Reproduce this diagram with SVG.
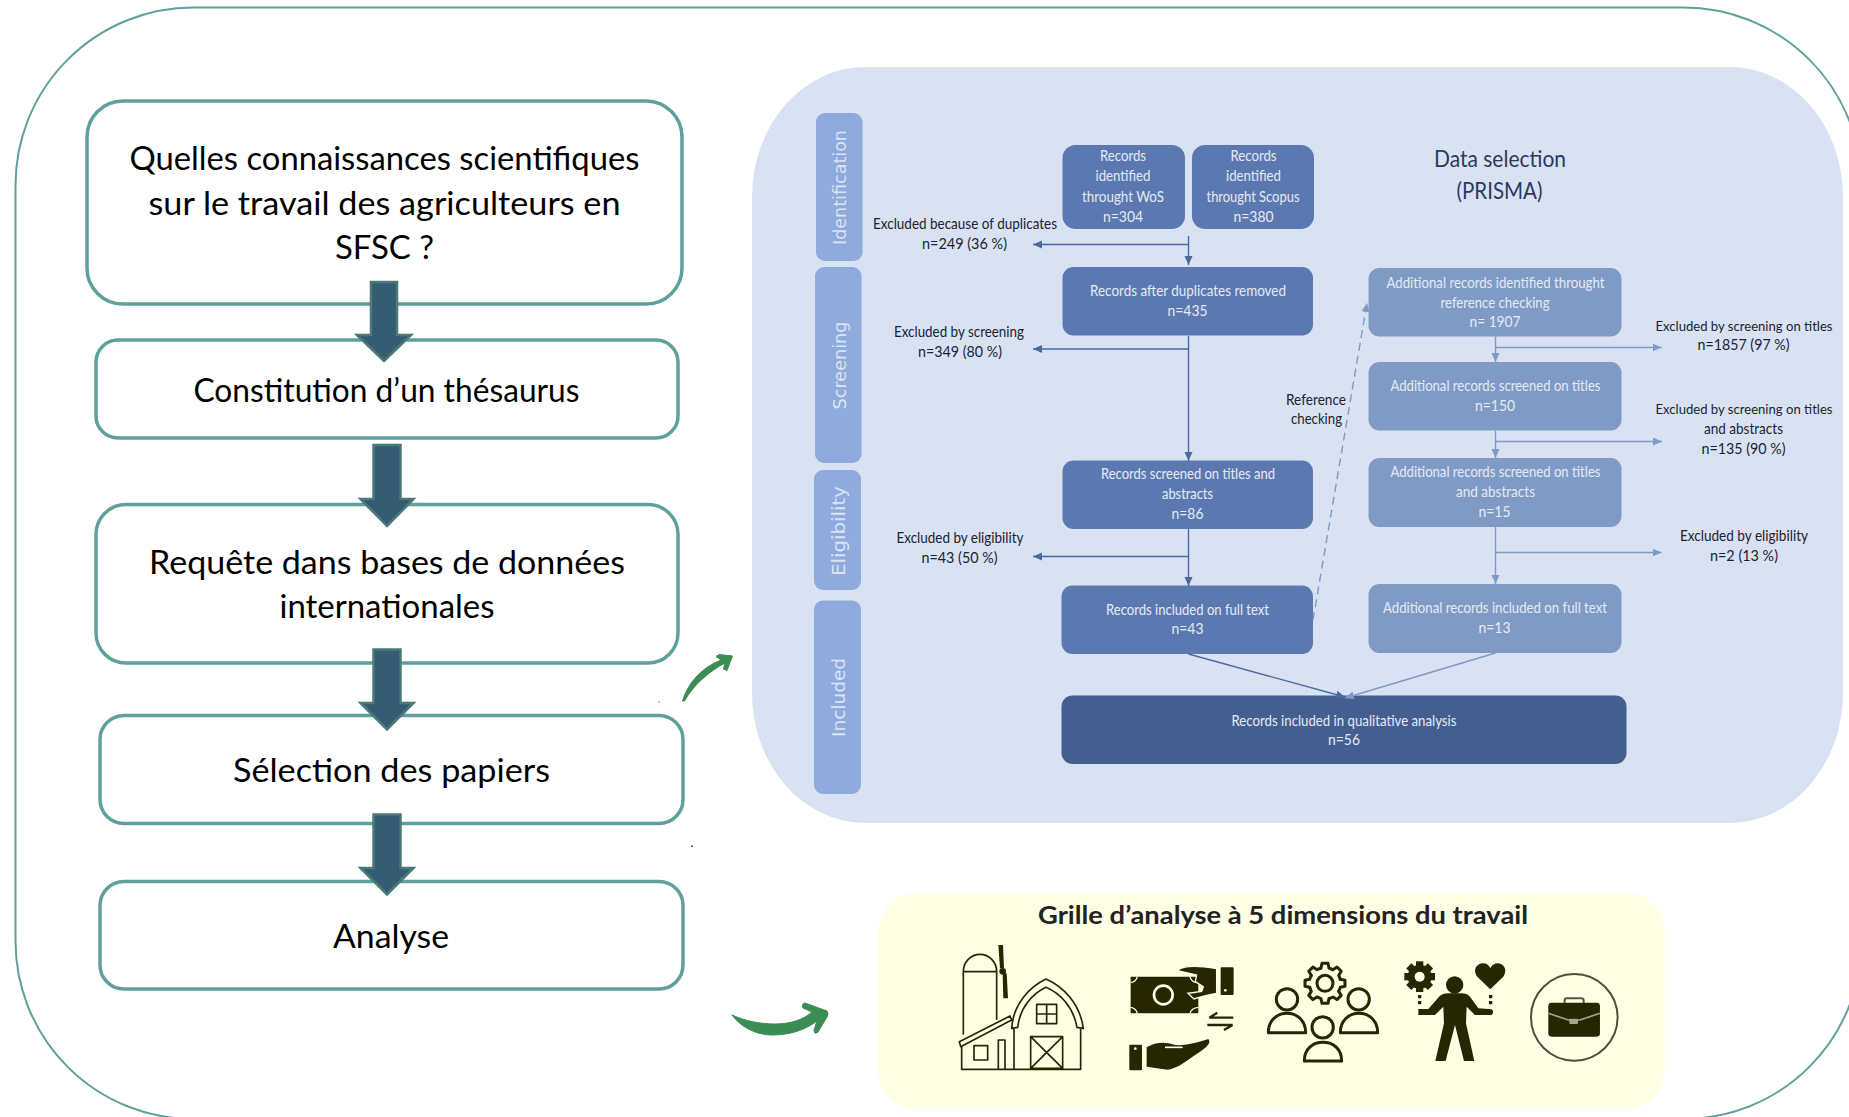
<svg xmlns="http://www.w3.org/2000/svg" xmlns:xlink="http://www.w3.org/1999/xlink" width="1849" height="1117" viewBox="0 0 1849 1117">
<style>
text{font-family:"Lato","Open Sans","Liberation Sans",sans-serif;text-anchor:middle}
.box{fill:#fff;stroke:#60a09c;stroke-width:3.5}
.big{font-size:32px;fill:#000}
.arr{fill:#365c74;stroke:#4a7a78;stroke-width:2.5}
.tab{fill:#8faadc}
.tabt{font-family:"DejaVu Sans","Open Sans",sans-serif;font-size:18px;fill:#dbe4f4}
.d{fill:#5b79b0}.l{fill:#7f9ac4}.x{fill:#445f8f}
.w{font-size:15px;fill:#e4eaf5;transform:translateY(-.7px)}
.k{font-size:15px;fill:#1c2230;transform:translateY(-.7px)}
.k14{font-size:14px}
.cd{fill:none;stroke:#4a6a9f;stroke-width:1.4}
.cl{fill:none;stroke:#7f9ac4;stroke-width:1.4}
.ic{fill:none;stroke:#262600;stroke-linecap:round;stroke-linejoin:round}
.if{fill:#262600}
.g{fill:#3c8c55;stroke:#3c8c55;stroke-width:1;stroke-linejoin:round}
</style>
<defs>
<marker id="hd" markerUnits="userSpaceOnUse" markerWidth="10" markerHeight="10" refX="9" refY="4" orient="auto"><path d="M0,0L9,4L0,8Z" fill="#4a6a9f"/></marker>
<marker id="hl" markerUnits="userSpaceOnUse" markerWidth="10" markerHeight="10" refX="9" refY="4" orient="auto"><path d="M0,0L9,4L0,8Z" fill="#7f9ac4"/></marker>
<path id="tooth" d="M-12,-46L-9,-60H9L12,-46A48,48 0 0 1 23,-41"/>
<rect id="st" x="-11" y="-46" width="22" height="14"/>
</defs>
<rect width="1849" height="1117" fill="#fff"/>
<rect id="frame" x="15.500" y="7.500" width="1846" height="1111.500" rx="178" ry="178" fill="none" stroke="#60a09c" stroke-width="2"/>

<g id="q1"><rect class="box" x="87" y="101" width="595" height="203" rx="36"/>
<text class="big" x="384.500" y="170" textLength="510" lengthAdjust="spacingAndGlyphs">Quelles connaissances scientifiques</text>
<text class="big" x="384.500" y="215" textLength="472" lengthAdjust="spacingAndGlyphs">sur le travail des agriculteurs en</text>
<text class="big" x="384.500" y="259" textLength="99" lengthAdjust="spacingAndGlyphs">SFSC ?</text></g>
<g id="q2"><rect class="box" x="96" y="340" width="582" height="98" rx="22"/>
<text class="big" x="386.500" y="402" textLength="386" lengthAdjust="spacingAndGlyphs">Constitution d’un thésaurus</text></g>
<g id="q3"><rect class="box" x="96" y="504.500" width="582" height="158.500" rx="30"/>
<text class="big" x="387" y="574" textLength="476" lengthAdjust="spacingAndGlyphs">Requête dans bases de données</text>
<text class="big" x="387" y="618" textLength="215" lengthAdjust="spacingAndGlyphs">internationales</text></g>
<g id="q4"><rect class="box" x="100" y="715.500" width="583" height="108" rx="24"/>
<text class="big" x="391.500" y="782" textLength="317" lengthAdjust="spacingAndGlyphs">Sélection des papiers</text></g>
<g id="q5"><rect class="box" x="100" y="881.500" width="583" height="107.500" rx="24"/>
<text class="big" x="391" y="948" textLength="116" lengthAdjust="spacingAndGlyphs">Analyse</text></g>

<g id="flow-arrows">
<path class="arr" d="M371,282H397V335H411L384,361L357,335H371Z"/>
<path class="arr" d="M373.500,445H400.500V499H413.500L387,526L360.500,499H373.500Z"/>
<path class="arr" d="M373.500,649.500H400.500V703H413.500L387,729.500L360.500,703H373.500Z"/>
<path class="arr" d="M373.500,814.500H400.500V868H413.500L387,894.500L360.500,868H373.500Z"/>
</g>

<g id="green-arrows">
<path class="g" d="M682.500,701C688,682 703,667 721,660L716,656.500L719,654.500L732.500,656L727,670.500L723.500,669L725,663C710,671 694,684 684.500,701Z"/>
<path class="g" d="M732,1015C745,1021 760,1024 775,1024C790,1024 803,1020 812,1012L803,1008Q801,1004 805,1003L827,1011Q829,1014 827,1017L818,1032Q814,1035 814,1030L817,1021C805,1030 790,1035 772,1035C755,1035 740,1026 732,1015Z"/>
</g>
<rect x="658.500" y="701" width="1.500" height="2" fill="#9cc"/>
<rect x="691" y="845.500" width="2" height="1.500" fill="#555"/>

<g id="prisma-panel">
<rect x="752" y="67" width="1091" height="756" rx="113" ry="130" fill="#d9e2f3"/>
<text x="1500" y="167" font-size="23" fill="#2b3a5e" textLength="132" lengthAdjust="spacingAndGlyphs">Data selection</text>
<text x="1499.500" y="199" font-size="23" fill="#2b3a5e" textLength="86" lengthAdjust="spacingAndGlyphs">(PRISMA)</text>
</g>

<g id="tab-identification"><rect class="tab" x="816" y="113" width="46.500" height="148" rx="9"/><text class="tabt" transform="translate(846,187.500) rotate(-90)" textLength="115" lengthAdjust="spacingAndGlyphs">Identification</text></g>
<g id="tab-screening"><rect class="tab" x="815" y="267" width="46.500" height="196" rx="9"/><text class="tabt" transform="translate(846,365.500) rotate(-90)" textLength="88" lengthAdjust="spacingAndGlyphs">Screening</text></g>
<g id="tab-eligibility"><rect class="tab" x="814" y="470" width="47" height="120" rx="9"/><text class="tabt" transform="translate(845,531) rotate(-90)" textLength="90" lengthAdjust="spacingAndGlyphs">Eligibility</text></g>
<g id="tab-included"><rect class="tab" x="814" y="600.500" width="47" height="193.500" rx="9"/><text class="tabt" transform="translate(845,697.500) rotate(-90)" textLength="79" lengthAdjust="spacingAndGlyphs">Included</text></g>

<g id="wos"><rect class="d" x="1062.500" y="145" width="122.500" height="84" rx="13"/>
<text class="w" x="1123" y="162" textLength="46" lengthAdjust="spacingAndGlyphs">Records</text><text class="w" x="1123" y="182" textLength="55" lengthAdjust="spacingAndGlyphs">identified</text><text class="w" x="1123" y="203" textLength="82" lengthAdjust="spacingAndGlyphs">throught WoS</text><text class="w" x="1123" y="223" textLength="40" lengthAdjust="spacingAndGlyphs">n=304</text></g>
<g id="scopus"><rect class="d" x="1192" y="145" width="122" height="84" rx="13"/>
<text class="w" x="1253.500" y="162" textLength="46" lengthAdjust="spacingAndGlyphs">Records</text><text class="w" x="1253.500" y="182" textLength="55" lengthAdjust="spacingAndGlyphs">identified</text><text class="w" x="1253" y="203" textLength="93" lengthAdjust="spacingAndGlyphs">throught Scopus</text><text class="w" x="1253.500" y="223" textLength="40" lengthAdjust="spacingAndGlyphs">n=380</text></g>
<g id="after-dup"><rect class="d" x="1062.500" y="267" width="250.500" height="68.500" rx="11"/>
<text class="w" x="1188" y="297" textLength="196" lengthAdjust="spacingAndGlyphs">Records after duplicates removed</text><text class="w" x="1187.500" y="317" textLength="40" lengthAdjust="spacingAndGlyphs">n=435</text></g>
<g id="screened"><rect class="d" x="1062.500" y="460.500" width="250.500" height="68.500" rx="11"/>
<text class="w" x="1188" y="480" textLength="174" lengthAdjust="spacingAndGlyphs">Records screened on titles and</text><text class="w" x="1187.500" y="500" textLength="51" lengthAdjust="spacingAndGlyphs">abstracts</text><text class="w" x="1187.500" y="520" textLength="32" lengthAdjust="spacingAndGlyphs">n=86</text></g>
<g id="fulltext"><rect class="d" x="1061.500" y="585.500" width="251.500" height="68.500" rx="11"/>
<text class="w" x="1187.500" y="616" textLength="163" lengthAdjust="spacingAndGlyphs">Records included on full text</text><text class="w" x="1187.500" y="635" textLength="32" lengthAdjust="spacingAndGlyphs">n=43</text></g>
<g id="qualitative"><rect class="x" x="1061.500" y="695.500" width="565" height="68.500" rx="11"/>
<text class="w" x="1344" y="727" textLength="225" lengthAdjust="spacingAndGlyphs">Records included in qualitative analysis</text><text class="w" x="1344" y="746" textLength="32" lengthAdjust="spacingAndGlyphs">n=56</text></g>
<g id="add1"><rect class="l" x="1368.500" y="268" width="253" height="68.500" rx="11"/>
<text class="w" x="1495.500" y="289" textLength="218" lengthAdjust="spacingAndGlyphs">Additional records identified throught</text><text class="w" x="1495" y="309" textLength="109" lengthAdjust="spacingAndGlyphs">reference checking</text><text class="w" x="1495" y="328" textLength="51" lengthAdjust="spacingAndGlyphs">n= 1907</text></g>
<g id="add2"><rect class="l" x="1368.500" y="362" width="253" height="68.500" rx="11"/>
<text class="w" x="1495.500" y="392" textLength="210" lengthAdjust="spacingAndGlyphs">Additional records screened on titles</text><text class="w" x="1495" y="412" textLength="40" lengthAdjust="spacingAndGlyphs">n=150</text></g>
<g id="add3"><rect class="l" x="1368.500" y="458" width="253" height="69" rx="11"/>
<text class="w" x="1495.500" y="478" textLength="210" lengthAdjust="spacingAndGlyphs">Additional records screened on titles</text><text class="w" x="1495.500" y="498" textLength="79" lengthAdjust="spacingAndGlyphs">and abstracts</text><text class="w" x="1494.500" y="518" textLength="32" lengthAdjust="spacingAndGlyphs">n=15</text></g>
<g id="add4"><rect class="l" x="1368.500" y="584" width="253" height="69" rx="11"/>
<text class="w" x="1495" y="614" textLength="224" lengthAdjust="spacingAndGlyphs">Additional records included on full text</text><text class="w" x="1494.500" y="634" textLength="32" lengthAdjust="spacingAndGlyphs">n=13</text></g>

<g id="labels">
<text class="k" x="965" y="230" textLength="184" lengthAdjust="spacingAndGlyphs">Excluded because of duplicates</text><text class="k" x="964.500" y="250" textLength="85" lengthAdjust="spacingAndGlyphs">n=249 (36 %)</text>
<text class="k" x="959" y="338" textLength="130" lengthAdjust="spacingAndGlyphs">Excluded by screening</text><text class="k" x="960" y="358" textLength="84" lengthAdjust="spacingAndGlyphs">n=349 (80 %)</text>
<text class="k" x="960" y="544" textLength="127" lengthAdjust="spacingAndGlyphs">Excluded by eligibility</text><text class="k" x="959.500" y="564" textLength="76" lengthAdjust="spacingAndGlyphs">n=43 (50 %)</text>
<text class="k" x="1316" y="406" textLength="60" lengthAdjust="spacingAndGlyphs">Reference</text><text class="k" x="1316.500" y="425" textLength="51" lengthAdjust="spacingAndGlyphs">checking</text>
<text class="k k14" x="1744" y="332" textLength="177" lengthAdjust="spacingAndGlyphs">Excluded by screening on titles</text><text class="k" x="1743.500" y="351" textLength="92" lengthAdjust="spacingAndGlyphs">n=1857 (97 %)</text>
<text class="k k14" x="1744" y="415" textLength="177" lengthAdjust="spacingAndGlyphs">Excluded by screening on titles</text><text class="k" x="1743.500" y="435" textLength="79" lengthAdjust="spacingAndGlyphs">and abstracts</text><text class="k" x="1743.500" y="455" textLength="84" lengthAdjust="spacingAndGlyphs">n=135 (90 %)</text>
<text class="k" x="1744" y="542" textLength="128" lengthAdjust="spacingAndGlyphs">Excluded by eligibility</text><text class="k" x="1744" y="562" textLength="68" lengthAdjust="spacingAndGlyphs">n=2 (13 %)</text>
</g>

<g id="connectors">
<path class="cd" marker-end="url(#hd)" d="M1188.500,236V265"/>
<path class="cd" marker-end="url(#hd)" d="M1188.500,244.500H1033"/>
<path class="cd" marker-end="url(#hd)" d="M1188.500,336V461"/>
<path class="cd" marker-end="url(#hd)" d="M1188.500,349H1033"/>
<path class="cd" marker-end="url(#hd)" d="M1188.500,529V586"/>
<path class="cd" marker-end="url(#hd)" d="M1188.500,556.500H1033"/>
<path class="cd" marker-end="url(#hd)" d="M1188.500,654L1345,697"/>
<path class="cl" marker-end="url(#hl)" d="M1495.500,653L1345,698"/>
<path class="cl" stroke-dasharray="8 5" marker-end="url(#hl)" d="M1313,620L1367,303"/>
<path class="cl" marker-end="url(#hl)" d="M1495.500,336.500V362"/>
<path class="cl" marker-end="url(#hl)" d="M1495.500,347.500H1661.500"/>
<path class="cl" marker-end="url(#hl)" d="M1495.500,430.500V458"/>
<path class="cl" marker-end="url(#hl)" d="M1495.500,441.500H1662"/>
<path class="cl" marker-end="url(#hl)" d="M1495.500,527V584"/>
<path class="cl" marker-end="url(#hl)" d="M1495.500,552.500H1661.500"/>
</g>

<g id="grid-panel">
<rect x="878" y="892.500" width="787" height="217.500" rx="40" fill="#feffe4"/>
<text x="1283" y="924" font-size="24" font-weight="700" fill="#222" textLength="490" lengthAdjust="spacingAndGlyphs">Grille d’analyse à 5 dimensions du travail</text>
</g>

<g id="icon-barn" transform="translate(930,930) scale(.3333)">
<path class="ic" stroke-width="5" d="M100,312V125A50,52 0 0 1 200,125V268M100,125H200M88,335L240,258L245,270L92,350ZM95,350V418H450M132,347h41v43h-41ZM205,330h20v88h-20ZM245,295C250,220 300,170 348,147C400,170 450,220 460,295L441,292C430,230 390,190 348,172C310,190 270,230 263,292ZM252,295V418M452,295V418M320,223h60v58h-60ZM350,223V281M320,252H380M302,320h96v95h-96ZM302,320L398,415M398,320L302,415"/>
<path class="if" d="M205,45h14l3,70h-12ZM218,130h12l4,75h-14Z"/><circle class="if" cx="218" cy="124" r="10"/>
</g>
<g id="icon-money" transform="translate(930,930) scale(.3333)">
<path class="if" d="M602,140H805V250H602Z"/>
<g fill="none" stroke="#feffe4" stroke-width="4"><circle cx="700" cy="195" r="28" stroke-width="8"/><path d="M602,158Q618,156 622,140M602,232Q618,234 622,250M780,250Q784,234 805,232M780,140Q784,156 800,158"/></g>
<path class="if" stroke="#feffe4" stroke-width="4" d="M742,122C760,105 800,106 860,116V190L826,197L792,207L774,190L815,184L820,170L796,155L800,135Z"/>
<rect class="if" x="872" y="112" width="39" height="83" rx="3"/><circle cx="886" cy="181" r="4" fill="#feffe4"/>
<path fill="none" stroke="#262600" stroke-width="7" d="M910,263H838M862,248L838,263M832,285H908M882,300L908,285"/>
<rect class="if" x="598" y="344" width="38" height="77" rx="3"/><circle cx="616" cy="356" r="4" fill="#feffe4"/>
<path class="if" d="M650,352C680,335 705,335 735,345C770,348 810,335 835,327C845,338 832,352 800,372C770,392 745,415 712,419L650,410Z"/>
<path stroke="#feffe4" stroke-width="5" d="M705,352H758"/>
</g>
<g id="icon-people" transform="translate(1240,930) scale(.3333)">
<g class="ic" stroke-width="9">
<circle cx="255" cy="160" r="24"/>
<g transform="translate(255,160)"><use xlink:href="#tooth"/><use xlink:href="#tooth" transform="rotate(45)"/><use xlink:href="#tooth" transform="rotate(90)"/><use xlink:href="#tooth" transform="rotate(135)"/><use xlink:href="#tooth" transform="rotate(180)"/><use xlink:href="#tooth" transform="rotate(225)"/><use xlink:href="#tooth" transform="rotate(270)"/><use xlink:href="#tooth" transform="rotate(315)"/></g>
<circle cx="141" cy="208" r="32"/><path d="M85,308C85,272 110,250 141,250C172,250 197,272 197,308Z"/>
<circle cx="356" cy="208" r="32"/><path d="M301,308C301,272 326,250 357,250C388,250 413,272 413,308Z"/>
<circle cx="248" cy="292" r="32"/><path d="M193,393C193,357 218,337 249,337C280,337 305,357 305,393Z"/>
</g></g>
<g id="icon-person" transform="translate(1240,930) scale(.3333)">
<circle class="if" cx="644" cy="165" r="26"/>
<path class="if" d="M535,237H565L600,197Q610,190 625,190H665Q680,190 690,200L715,235L755,238Q764,246 755,255H705L680,230L678,280L703,393H672L645,285L617,393H586L612,280L610,230L585,255H535Z"/>
<g transform="translate(539,140)" class="if"><circle r="36"/><use xlink:href="#st"/><use xlink:href="#st" transform="rotate(45)"/><use xlink:href="#st" transform="rotate(90)"/><use xlink:href="#st" transform="rotate(135)"/><use xlink:href="#st" transform="rotate(180)"/><use xlink:href="#st" transform="rotate(225)"/><use xlink:href="#st" transform="rotate(270)"/><use xlink:href="#st" transform="rotate(315)"/><circle r="15" fill="#feffe4"/></g>
<path class="if" d="M751,178L712,140C695,115 715,98 732,100C742,101 748,108 751,115C755,107 762,100 772,100C790,100 805,118 790,140Z"/>
<path class="if" d="M534,195h10v10h-10ZM534,213h10v10h-10ZM747,195h10v10h-10ZM747,213h10v10h-10Z"/>
</g>
<g id="icon-case" transform="translate(1240,930) scale(.3333)">
<circle cx="1003" cy="262" r="130" fill="none" stroke="#4f4f3a" stroke-width="6"/>
<path fill="none" stroke="#55553f" stroke-width="6" d="M974,220V212Q974,205 981,205H1024Q1031,205 1031,212V220"/>
<rect class="if" x="925" y="218" width="155" height="102" rx="10"/>
<path fill="none" stroke="#a5a592" stroke-width="5" d="M925,250L985,270H1020L1080,250"/>
<rect x="988" y="266" width="26" height="16" rx="3" fill="#a5a592"/>
</g>
</svg>
